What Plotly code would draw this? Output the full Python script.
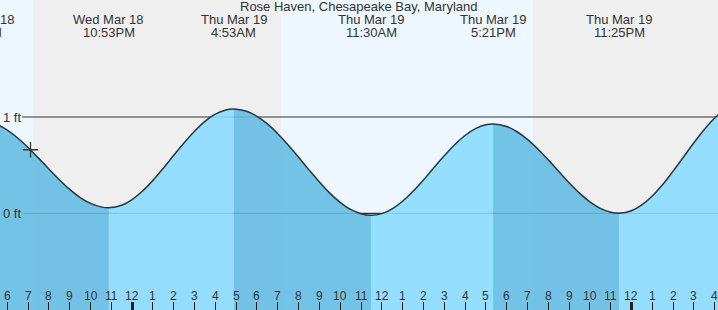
import plotly.graph_objects as go
import pandas as pd

# ---------------- data ----------------
title_text = "Rose Haven, Chesapeake Bay, Maryland"

tide_times = [
    # Wed Mar 18
    "2026-03-18 16:41", "2026-03-18 17:00", "2026-03-18 17:30", "2026-03-18 18:00",
    "2026-03-18 18:30", "2026-03-18 19:00", "2026-03-18 19:30", "2026-03-18 20:00",
    "2026-03-18 20:30", "2026-03-18 21:00", "2026-03-18 21:30", "2026-03-18 22:00",
    "2026-03-18 22:30", "2026-03-18 22:53", "2026-03-18 23:30",
    # Thu Mar 19
    "2026-03-19 00:00", "2026-03-19 00:30", "2026-03-19 01:00", "2026-03-19 01:30",
    "2026-03-19 02:00", "2026-03-19 02:30", "2026-03-19 03:00", "2026-03-19 03:30",
    "2026-03-19 04:00", "2026-03-19 04:30", "2026-03-19 04:53", "2026-03-19 05:30",
    "2026-03-19 06:00", "2026-03-19 06:30", "2026-03-19 07:00", "2026-03-19 07:30",
    "2026-03-19 08:00", "2026-03-19 08:30", "2026-03-19 09:00", "2026-03-19 09:30",
    "2026-03-19 10:00", "2026-03-19 10:30", "2026-03-19 11:00", "2026-03-19 11:30",
    "2026-03-19 12:00", "2026-03-19 12:30", "2026-03-19 13:00", "2026-03-19 13:30",
    "2026-03-19 14:00", "2026-03-19 14:30", "2026-03-19 15:00", "2026-03-19 15:30",
    "2026-03-19 16:00", "2026-03-19 16:30", "2026-03-19 17:00", "2026-03-19 17:21",
    "2026-03-19 18:00", "2026-03-19 18:30", "2026-03-19 19:00", "2026-03-19 19:30",
    "2026-03-19 20:00", "2026-03-19 20:30", "2026-03-19 21:00", "2026-03-19 21:30",
    "2026-03-19 22:00", "2026-03-19 22:30", "2026-03-19 23:00", "2026-03-19 23:25",
    # Fri Mar 20
    "2026-03-20 00:00", "2026-03-20 00:30", "2026-03-20 01:00", "2026-03-20 01:30",
    "2026-03-20 02:00", "2026-03-20 02:30", "2026-03-20 03:00", "2026-03-20 03:30",
    "2026-03-20 04:00", "2026-03-20 04:30", "2026-03-20 05:00", "2026-03-20 05:35",
]
tide_ft = [
    0.960, 0.954, 0.922, 0.863,
    0.782, 0.684, 0.573, 0.460,
    0.349, 0.248, 0.164, 0.103,
    0.067, 0.058, 0.084,
    0.143, 0.231, 0.342, 0.469,
    0.602, 0.733, 0.853, 0.955,
    1.030, 1.073, 1.083, 1.060,
    1.007, 0.928, 0.827, 0.709,
    0.582, 0.451, 0.325, 0.210,
    0.114, 0.040, -0.004, -0.020,
    -0.003, 0.047, 0.125, 0.228,
    0.346, 0.473, 0.597, 0.712,
    0.808, 0.879, 0.919, 0.927,
    0.901, 0.847, 0.768, 0.668,
    0.555, 0.436, 0.318, 0.210,
    0.119, 0.051, 0.011, 0.000,
    0.026, 0.087, 0.180, 0.299,
    0.438, 0.585, 0.732, 0.870,
    0.989, 1.083, 1.144, 1.170,
]

ext_times = ["2026-03-18 16:41", "2026-03-18 22:53", "2026-03-19 04:53",
             "2026-03-19 11:30", "2026-03-19 17:21", "2026-03-19 23:25"]
ext_dates = ["Wed Mar 18", "Wed Mar 18", "Thu Mar 19", "Thu Mar 19", "Thu Mar 19", "Thu Mar 19"]
ext_clock = ["4:41PM", "10:53PM", "4:53AM", "11:30AM", "5:21PM", "11:25PM"]

night_start = ["2026-03-18 19:15", "2026-03-19 19:16"]
night_end = ["2026-03-19 07:09", "2026-03-20 07:10"]

now_time = ["2026-03-18 19:07"]
now_ft = [0.66]

hour_ticks = [str(h) for h in pd.date_range("2026-03-18 18:00", "2026-03-20 04:00", freq="h")]
hour_labels = ["6", "7", "8", "9", "10", "11",
               "12", "1", "2", "3", "4", "5", "6", "7", "8", "9", "10", "11",
               "12", "1", "2", "3", "4", "5", "6", "7", "8", "9", "10", "11",
               "12", "1", "2", "3", "4"]
midnights = ["2026-03-19 00:00", "2026-03-20 00:00"]

level_vals = [1, 0]
level_labels = ["1 ft", "0 ft"]

x_range = ["2026-03-18 17:38:57", "2026-03-20 04:09:30"]
y_range = [-1.004, 2.215]

# ---------------- style ----------------
FONT = "Liberation Sans, Arial, sans-serif"
TXT = "#333333"
DAY_BG = "#EEF7FF"
NIGHT_BG = "#EFEFEF"
FALL_FILL = "rgba(101,188,228,0.9)"
RISE_FILL = "rgba(137,218,255,0.9)"
BASE = -1.2
W, H = 718, 310
SMOOTH = 1.0

fig = go.Figure()

t = pd.to_datetime(tide_times)
ext_set = set(pd.to_datetime(ext_times))
breaks = [0] + [i for i in range(1, len(t) - 1) if t[i] in ext_set] + [len(t) - 1]

for a, b in zip(breaks[:-1], breaks[1:]):
    xs = tide_times[a:b + 1]
    ys = tide_ft[a:b + 1]
    color = FALL_FILL if ys[-1] < ys[0] else RISE_FILL
    fig.add_trace(go.Scatter(x=xs, y=[BASE] * len(xs), mode="lines",
                             line=dict(width=0), hoverinfo="skip", showlegend=False))
    fig.add_trace(go.Scatter(x=xs, y=ys, mode="lines",
                             line=dict(width=0, shape="spline", smoothing=SMOOTH),
                             fill="tonexty", fillcolor=color, hoverinfo="skip",
                             showlegend=False))

fig.add_trace(go.Scatter(x=tide_times, y=tide_ft, mode="lines",
                         line=dict(color=TXT, width=1.5, shape="spline", smoothing=SMOOTH),
                         hoverinfo="skip", showlegend=False))

fig.add_trace(go.Scatter(x=now_time, y=now_ft, mode="markers",
                         marker=dict(symbol="cross-thin", size=11,
                                     line=dict(color=TXT, width=1.3)),
                         hoverinfo="skip", showlegend=False))

# invisible trace for the midnight tick overlay axis
fig.add_trace(go.Scatter(x=midnights, y=[None, None], xaxis="x2", mode="lines",
                         showlegend=False, hoverinfo="skip"))

# night bands
for s, e in zip(night_start, night_end):
    fig.add_vrect(x0=s, x1=e, fillcolor=NIGHT_BG, line_width=0, layer="below")

# level lines
for v in level_vals:
    fig.add_shape(type="line", xref="paper", yref="y", x0=22 / W, x1=1, y0=v, y1=v,
                  line=dict(color=TXT, width=1.2), layer="below")
for v, lab in zip(level_vals, level_labels):
    fig.add_annotation(text=lab, xref="paper", yref="y", x=0, y=v, xanchor="left",
                       yanchor="middle", showarrow=False, xshift=1,
                       font=dict(family=FONT, size=13, color=TXT))

# hour labels
for ht, hl in zip(hour_ticks, hour_labels):
    fig.add_annotation(text=hl, xref="x", yref="paper", x=ht, y=1 - 296 / H,
                       xanchor="center", yanchor="middle", showarrow=False,
                       font=dict(family=FONT, size=12, color=TXT))

# title
fig.add_annotation(text=title_text, xref="paper", yref="paper", x=0.5, y=1 - 6 / H,
                   xanchor="center", yanchor="middle", showarrow=False,
                   font=dict(family=FONT, size=13, color=TXT))

# extreme labels
x0 = pd.Timestamp(x_range[0]); x1 = pd.Timestamp(x_range[1])
for et, d, c in zip(ext_times, ext_dates, ext_clock):
    ts = pd.Timestamp(et)
    frac = (ts - x0) / (x1 - x0)
    for txt, ypx in ((d, 20), (c, 32)):
        fig.add_annotation(text=txt, xref="paper", yref="paper", x=frac, y=1 - ypx / H,
                           xanchor="center", yanchor="middle", showarrow=False,
                           font=dict(family=FONT, size=13, color=TXT))

fig.update_layout(
    width=W, height=H, margin=dict(l=0, r=0, t=0, b=0),
    plot_bgcolor=DAY_BG, paper_bgcolor=DAY_BG,
    showlegend=False,
    xaxis=dict(type="date", range=x_range, tickvals=hour_ticks,
               ticks="inside", ticklen=8, tickwidth=1, tickcolor="#222222",
               showticklabels=False,
               showgrid=False, zeroline=False, showline=False, fixedrange=True),
    xaxis2=dict(type="date", range=x_range, overlaying="x", anchor="y", side="bottom",
                tickvals=midnights, ticks="inside", ticklen=8, tickwidth=3,
                tickcolor="#222222", showticklabels=False, showgrid=False,
                zeroline=False, showline=False, fixedrange=True),
    yaxis=dict(range=y_range, showgrid=False, zeroline=False, showticklabels=False,
               ticks="", fixedrange=True),
)

fig.write_html("out.html", config={"displayModeBar": False})
